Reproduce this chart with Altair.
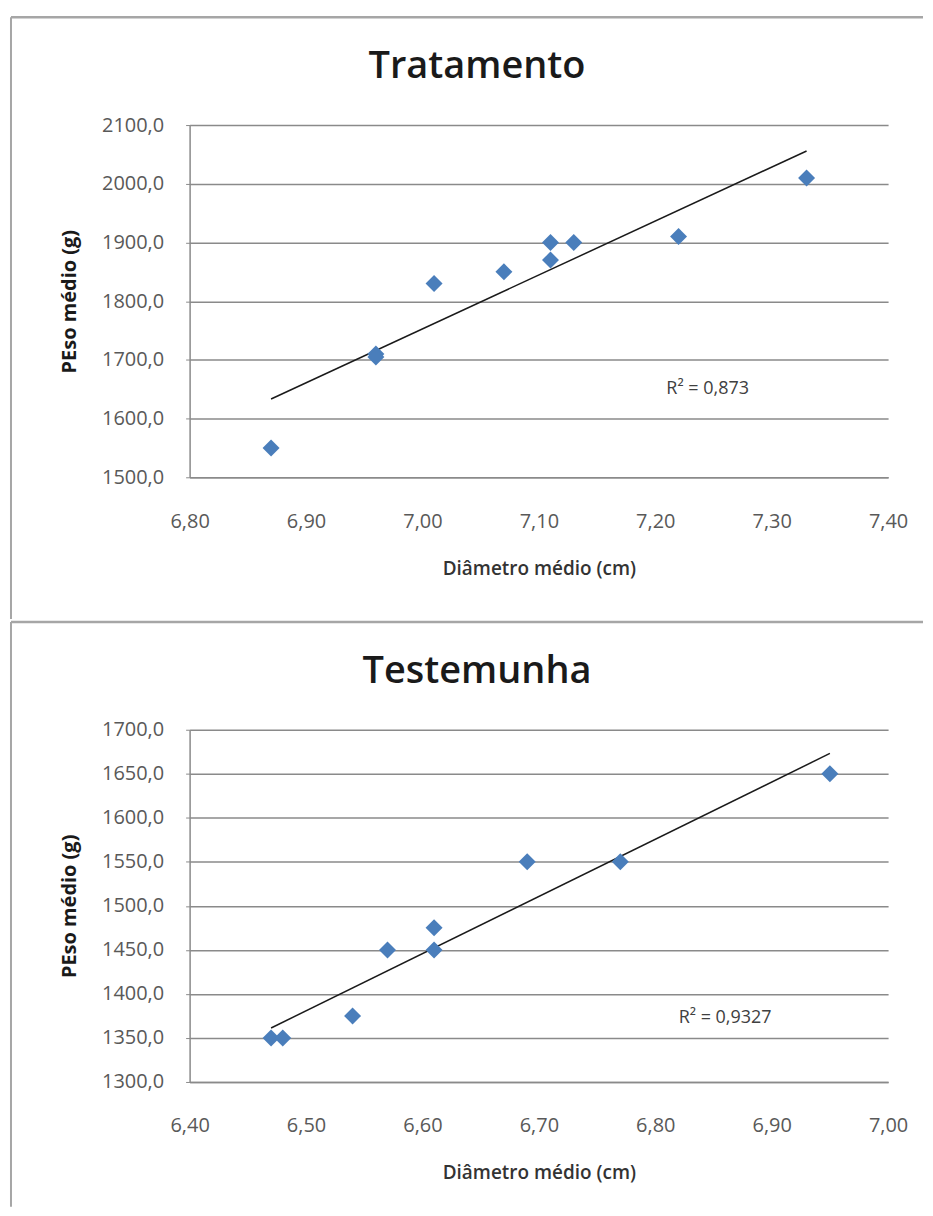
import altair as alt
import pandas as pd

# ---- data ----
trat_x = [6.87, 6.96, 6.96, 7.01, 7.07, 7.11, 7.11, 7.13, 7.22, 7.33]
trat_y = [1550, 1710, 1705, 1830, 1850, 1900, 1870, 1900, 1910, 2010]

test_x = [6.47, 6.48, 6.54, 6.57, 6.61, 6.61, 6.69, 6.77, 6.95]
test_y = [1350, 1350, 1375, 1450, 1475, 1450, 1550, 1550, 1650]

titles = ["Tratamento", "Testemunha"]
r2_labels = ["R² = 0,873", "R² = 0,9327"]
r2_x = [7.245, 6.86]
r2_y = [1650, 1373]

x_ticks_top = [6.80, 6.90, 7.00, 7.10, 7.20, 7.30, 7.40]
x_ticks_bottom = [6.40, 6.50, 6.60, 6.70, 6.80, 6.90, 7.00]
y_ticks_top = [1500, 1600, 1700, 1800, 1900, 2000, 2100]
y_ticks_bottom = [1300, 1350, 1400, 1450, 1500, 1550, 1600, 1650, 1700]

x_title = "Diâmetro médio (cm)"
y_title = "PEso médio (g)"

FONT = "Open Sans"
W, H = 700, 353
GRID = "#8a8a8a"
FRAME = "#a6a6a6"


def panel(xs, ys, title, r2lab, r2x, r2y, xticks, yticks, left_len):
    df = pd.DataFrame({"x": xs, "y": ys})
    xenc = alt.X(
        "x:Q",
        scale=alt.Scale(domain=[xticks[0], xticks[-1]], nice=False, zero=False),
        axis=alt.Axis(
            values=xticks,
            labelExpr="replace(format(datum.value, '.2f'), '.', ',')",
            title=x_title,
            grid=False,
            ticks=False,
            labelFlush=False,
            labelPadding=34,
            titlePadding=28,
            labelFont=FONT,
            labelFontSize=20,
            labelColor="#595959",
            titleFont=FONT,
            titleFontSize=19,
            titleFontWeight=600,
            titleColor="#333333",
            domainColor=GRID,
            domainWidth=1.5,
        ),
    )
    yenc = alt.Y(
        "y:Q",
        scale=alt.Scale(domain=[yticks[0], yticks[-1]], nice=False, zero=False),
        axis=alt.Axis(
            values=yticks,
            labelExpr="replace(format(datum.value, '.1f'), '.', ',')",
            title=y_title,
            grid=True,
            gridColor=GRID,
            gridWidth=1.5,
            tickSize=4,
            tickColor=GRID,
            labelFlush=False,
            labelPadding=22,
            titlePadding=22,
            labelFont=FONT,
            labelFontSize=20,
            labelColor="#595959",
            titleFont=FONT,
            titleFontSize=20,
            titleFontWeight="bold",
            titleColor="#1a1a1a",
            domainColor=GRID,
            domainWidth=1.5,
        ),
    )

    pts = alt.Chart(df).mark_point(
        shape="diamond", filled=True, size=290, color="#4a7ebb", opacity=1
    ).encode(x=xenc, y=yenc)

    trend = alt.Chart(df).transform_regression("x", "y").mark_line(
        color="#1a1a1a", strokeWidth=1.5
    ).encode(x=xenc, y=yenc)

    r2 = alt.Chart(pd.DataFrame({"x": [r2x], "y": [r2y], "t": [r2lab]})).mark_text(
        font=FONT, fontSize=18, color="#404040", align="center", baseline="middle"
    ).encode(x=xenc, y=yenc, text="t:N")

    one = pd.DataFrame({"t": [title]})
    ttl = alt.Chart(one).mark_text(
        font=FONT, fontSize=38, fontWeight=600, color="#1a1a1a",
        align="center", baseline="middle", clip=False
    ).encode(text="t:N", x=alt.value(288), y=alt.value(-58))

    top_rule = alt.Chart(one).mark_rule(color=FRAME, strokeWidth=2.5, clip=False).encode(
        x=alt.value(-179), x2=alt.value(735), y=alt.value(-108)
    )
    left_rule = alt.Chart(one).mark_rule(color=FRAME, strokeWidth=2, clip=False).encode(
        x=alt.value(-179), y=alt.value(-108), y2=alt.value(left_len)
    )

    return alt.layer(top_rule, left_rule, ttl, trend, pts, r2).properties(width=W, height=H)


top = panel(trat_x, trat_y, titles[0], r2_labels[0], r2_x[0], r2_y[0],
            x_ticks_top, y_ticks_top, 495)
bottom = panel(test_x, test_y, titles[1], r2_labels[1], r2_x[1], r2_y[1],
               x_ticks_bottom, y_ticks_bottom, 478)

chart = alt.vconcat(top, bottom, spacing=0).properties(
    padding={"left": 1, "top": 6, "right": 0, "bottom": 0}
).configure_view(stroke=None)

chart.save("out.html", embed_options={"renderer": "svg", "actions": False})
